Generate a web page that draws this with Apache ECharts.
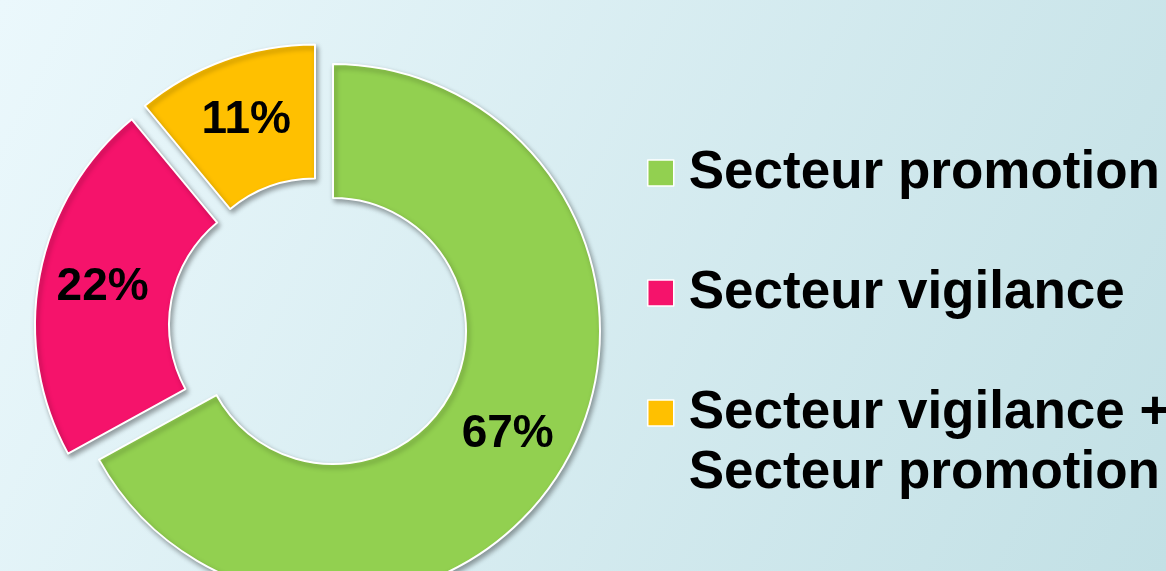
<!DOCTYPE html>
<html>
<head>
<meta charset="utf-8">
<script src="https://cdn.jsdelivr.net/npm/echarts@6/dist/echarts.min.js"></script>
<style>
  html, body { margin: 0; padding: 0; }
  #chart { width: 1166px; height: 571px; }
</style>
</head>
<body>
<div id="chart"></div>
<script>
// Share of sectors (percent)
const categories = ['Secteur promotion', 'Secteur vigilance', 'Secteur vigilance +\nSecteur promotion'];
const values = [67, 22, 11];
const colors = ['#92d050', '#f5136b', '#ffc000'];

// Exploded slices: each slice is its own ring, shifted away from the centre
const ringCenter = [333, 331];
const sliceShift = [[0, 0], [-31, -6], [-18, -19.5]];

const FONT = '"Liberation Sans", Arial, sans-serif';

const series = values.map(function (_, k) {
  return {
    type: 'pie',
    center: [ringCenter[0] + sliceShift[k][0], ringCenter[1] + sliceShift[k][1]],
    radius: [133, 267],
    startAngle: 90,
    clockwise: true,
    silent: true,
    animation: false,
    avoidLabelOverlap: false,
    labelLine: { show: false },
    label: {
      position: 'inside',
      formatter: '{c}%',
      fontSize: 46,
      fontWeight: 'bold',
      fontFamily: FONT,
      color: '#000'
    },
    data: categories.map(function (name, i) {
      const own = i === k;
      return {
        name: name,
        value: values[i],
        label: { show: own },
        itemStyle: own ? {
          color: colors[i],
          borderColor: '#ffffff',
          borderWidth: 2,
          shadowColor: 'rgba(0,0,0,0.35)',
          shadowBlur: 5,
          shadowOffsetX: 2,
          shadowOffsetY: 3
        } : {
          color: 'rgba(0,0,0,0)',
          borderWidth: 0
        }
      };
    })
  };
});

// Legend rows are three text lines tall, so the marker sits on the first line of the
// two-line entry and on the only line of the others
function legendText(name) {
  return name.indexOf('\n') >= 0 ? '\n' + name : '\n' + name + '\n';
}

const chart = echarts.init(document.getElementById('chart'), null, { renderer: 'canvas' });
chart.setOption({
  animation: false,
  backgroundColor: {
    type: 'linear', x: 0, y: 0, x2: 1, y2: 1,
    colorStops: [
      { offset: 0, color: '#ebf8fc' },
      { offset: 1, color: '#c2e0e5' }
    ]
  },
  legend: {
    orient: 'vertical',
    left: 647,
    top: 83,
    padding: 0,
    itemGap: -60,
    itemWidth: 26,
    itemHeight: 26,
    icon: 'rect',
    selectedMode: false,
    formatter: legendText,
    textStyle: {
      fontSize: 53,
      fontWeight: 'bold',
      fontFamily: FONT,
      color: '#000',
      lineHeight: 60,
      padding: [0, 0, 0, 10]
    },
    data: categories.map(function (name, i) {
      return {
        name: name,
        itemStyle: { color: colors[i], borderColor: '#ffffff', borderWidth: 1.5 }
      };
    })
  },
  series: series
});
</script>
</body>
</html>
